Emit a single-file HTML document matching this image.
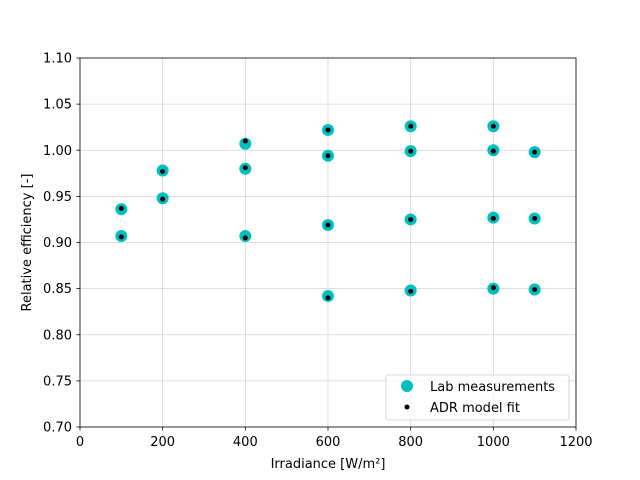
<!DOCTYPE html>
<html><head><meta charset="utf-8"><style>
body{margin:0;background:#fff}
svg{display:block;font-family:"DejaVu Sans","Liberation Sans",sans-serif}
</style></head><body>
<svg id="s" width="640" height="480" xmlns="http://www.w3.org/2000/svg">
<rect width="640" height="480" fill="#fff"/>
<g id="grid" stroke="#d3d3d3" stroke-width="0.8"></g>
<g id="pts"></g>
<rect x="80" y="58" width="496" height="369" fill="none" stroke="#000" stroke-width="0.8"/>
<g id="ticks" font-size="13" fill="#000"></g>
<text x="328" y="468" font-size="13" text-anchor="middle">Irradiance [W/m²]</text>
<text transform="translate(31,242.5) rotate(-90)" font-size="13" text-anchor="middle">Relative efficiency [-]</text>
<rect x="386" y="375" width="183" height="45" rx="2" fill="#fff" fill-opacity="0.8" stroke="#ccc" stroke-width="0.8"/>
<circle cx="407" cy="386" r="6" fill="#00bfbf"/>
<text x="430" y="391" font-size="13">Lab measurements</text>
<circle cx="407" cy="407" r="2.5" fill="#000"/>
<text x="430" y="412" font-size="13">ADR model fit</text>
</svg>
<script>
const NS="http://www.w3.org/2000/svg";
const X=v=>80+v*496/1200, Y=v=>427-(v-0.7)*922.5;
function el(p,t,a,txt){const e=document.createElementNS(NS,t);for(const k in a)e.setAttribute(k,a[k]);if(txt)e.textContent=txt;document.getElementById(p).appendChild(e);}
for(let v=0;v<=1200;v+=200){const x=X(v);el("grid","line",{x1:x,x2:x,y1:58,y2:427});el("ticks","line",{x1:x,x2:x,y1:427,y2:430.5,stroke:"#000","stroke-width":0.8});el("ticks","text",{x:x,y:446,"text-anchor":"middle"},String(v));}
for(let i=0;i<=8;i++){const v=0.7+i*0.05,y=Y(v);el("grid","line",{x1:80,x2:576,y1:y,y2:y});el("ticks","line",{x1:76.5,x2:80,y1:y,y2:y,stroke:"#000","stroke-width":0.8});el("ticks","text",{x:72,y:y+4.5,"text-anchor":"end"},v.toFixed(2));}
const d=[[100,.936,.937],[100,.907,.906],[200,.978,.977],[200,.948,.947],[400,1.007,1.010],[400,.980,.981],[400,.907,.905],[600,1.022,1.022],[600,.994,.994],[600,.919,.919],[600,.842,.840],[800,1.026,1.026],[800,.999,.999],[800,.925,.925],[800,.848,.847],[1000,1.026,1.026],[1000,1.000,.999],[1000,.927,.926],[1000,.850,.851],[1100,.998,.998],[1100,.926,.926],[1100,.849,.849]];
d.forEach(p=>el("pts","circle",{cx:X(p[0]),cy:Y(p[1]),r:6,fill:"#00bfbf"}));
d.forEach(p=>el("pts","circle",{cx:X(p[0]),cy:Y(p[2]),r:2.5,fill:"#000"}));
</script>
</body></html>
